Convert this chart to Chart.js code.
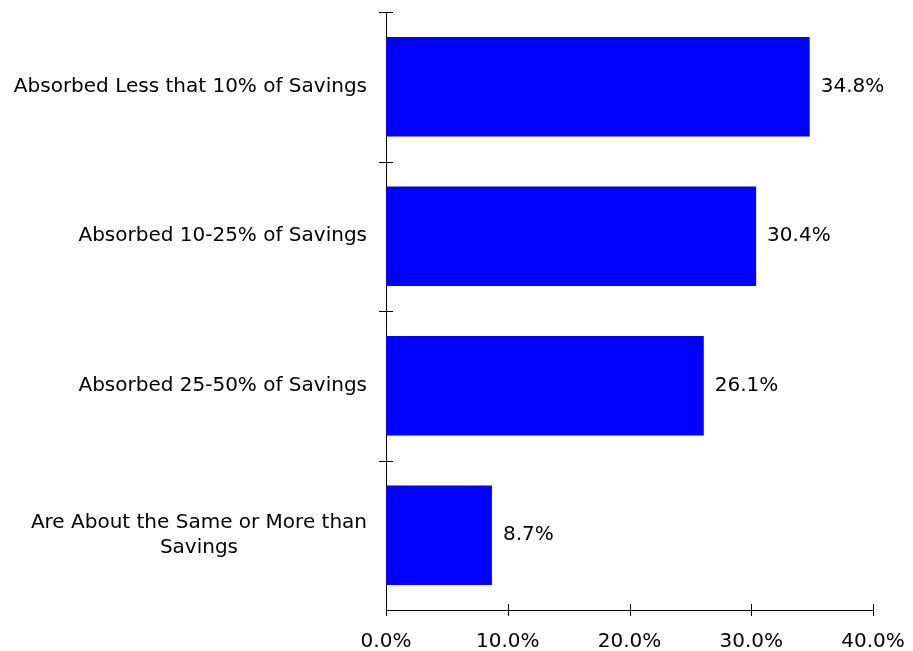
<!DOCTYPE html>
<html>
<head>
<meta charset="utf-8">
<script src="https://cdn.jsdelivr.net/npm/chart.js@4/dist/chart.umd.min.js"></script>
<style>
  html, body { margin: 0; padding: 0; background: #fff; }
  #wrap { width: 913px; height: 651px; }
</style>
</head>
<body>
<div id="wrap"><canvas id="chart" width="913" height="651"></canvas></div>
<script>
// 데이터
const categories = [
    'Absorbed Less that 10% of Savings',
    'Absorbed 10-25% of Savings',
    'Absorbed 25-50% of Savings',
    ['Are About the Same or More than', 'Savings']
];
const values = [34.8, 30.4, 26.1, 8.7];
const xTicks = [0, 10, 20, 30, 40];

const FONT_FAMILY = '"DejaVu Sans", Verdana, sans-serif';
const FONT_SIZE = 20;
const FONT = FONT_SIZE + 'px ' + FONT_FAMILY;
const TEXT_COLOR = '#000000';

// 축 눈금, 카테고리 라벨, 값 라벨 그리기
const labelPlugin = {
    id: 'labels',
    afterDraw(chart) {
        const ctx = chart.ctx;
        const area = chart.chartArea;
        const xs = chart.scales.x;
        const ys = chart.scales.y;
        ctx.save();
        ctx.strokeStyle = '#000';
        ctx.lineWidth = 1;

        // y축 눈금 (카테고리 경계)
        const band = (area.bottom - area.top) / categories.length;
        for (let k = 0; k < categories.length; k++) {
            const y = Math.round(area.top + k * band) + 0.5;
            ctx.beginPath();
            ctx.moveTo(area.left - 7, y);
            ctx.lineTo(area.left + 7, y);
            ctx.stroke();
        }
        // x축 눈금
        xTicks.forEach(v => {
            const x = Math.round(xs.getPixelForValue(v)) + 0.5;
            ctx.beginPath();
            ctx.moveTo(x, area.bottom - 6);
            ctx.lineTo(x, area.bottom + 6);
            ctx.stroke();
        });

        ctx.font = FONT;
        ctx.fillStyle = TEXT_COLOR;
        ctx.textBaseline = 'middle';

        // 카테고리 라벨
        const right = area.left - 19;
        categories.forEach((label, i) => {
            const yc = ys.getPixelForValue(i);
            if (Array.isArray(label)) {
                const w = Math.max(...label.map(l => ctx.measureText(l).width));
                const cx = right - w / 2;
                const lh = 25;
                ctx.textAlign = 'center';
                label.forEach((l, j) => {
                    ctx.fillText(l, cx, yc + (j - (label.length - 1) / 2) * lh);
                });
            } else {
                ctx.textAlign = 'right';
                ctx.fillText(label, right, yc);
            }
        });

        // 값 라벨
        ctx.textAlign = 'left';
        const meta = chart.getDatasetMeta(0);
        meta.data.forEach((bar, i) => {
            ctx.fillText(values[i].toFixed(1) + '%', bar.x + 11, bar.y);
        });
        ctx.restore();
    }
};

new Chart(document.getElementById('chart'), {
    type: 'bar',
    data: {
        labels: categories,
        datasets: [{
            data: values,
            backgroundColor: '#0000FF',
            borderWidth: 0,
            categoryPercentage: 0.665,
            barPercentage: 1.0
        }]
    },
    options: {
        indexAxis: 'y',
        responsive: false,
        animation: false,
        layout: { padding: { top: 12, right: 40, left: 0, bottom: 0 } },
        plugins: {
            legend: { display: false },
            tooltip: { enabled: false }
        },
        scales: {
            x: {
                min: 0,
                max: 40,
                grid: { display: false, drawTicks: false },
                border: { display: true, color: '#000', width: 1 },
                ticks: {
                    stepSize: 10,
                    padding: 20,
                    color: TEXT_COLOR,
                    font: { family: FONT_FAMILY, size: FONT_SIZE },
                    callback: v => v.toFixed(1) + '%'
                },
                afterFit: s => {
                    s.height = 41;
                    s.paddingLeft = 0;
                    s.paddingRight = 0;
                }
            },
            y: {
                grid: { display: false, drawTicks: false },
                border: { display: true, color: '#000', width: 1 },
                ticks: { display: false },
                afterFit: s => { s.width = 386; }
            }
        }
    },
    plugins: [labelPlugin]
});
</script>
</body>
</html>
